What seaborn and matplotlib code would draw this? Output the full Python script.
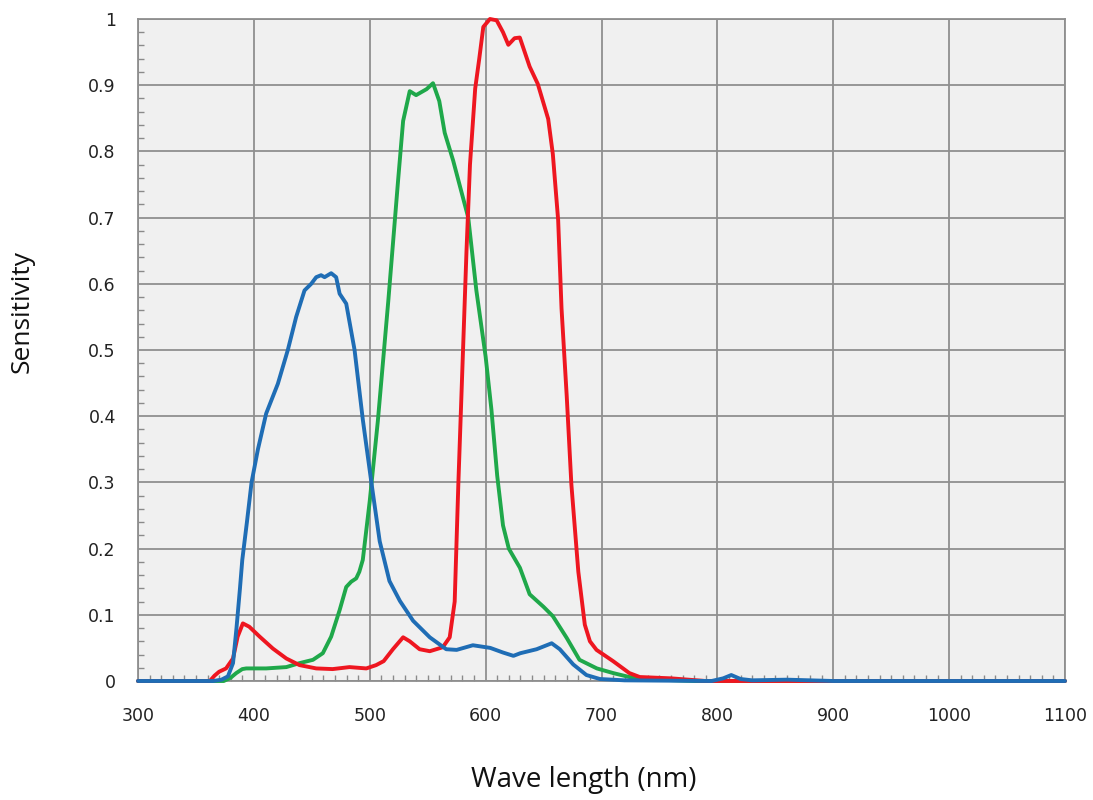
import numpy as np
import pandas as pd
import matplotlib
matplotlib.use("Agg")
import matplotlib.pyplot as plt
from matplotlib.ticker import MultipleLocator
import seaborn as sns

# ---- data ----
blue_x = [300, 365, 372, 377.6, 382, 385, 388, 390, 394, 398, 403.5, 410.6, 420.7, 429.3, 436.5,
          443.7, 449.5, 453.8, 458, 461, 466.7, 471, 474, 479.7, 486.9, 494, 501, 508.6, 517, 526,
          537.4, 551.8, 566, 575, 589, 604, 615, 624, 630, 644, 657, 664, 675.6, 687, 698.6, 720,
          795, 805, 812, 820, 830, 860, 880, 900, 1100]
blue_y = [0, 0, 0.002, 0.007, 0.027, 0.08, 0.14, 0.183, 0.24, 0.30, 0.35, 0.404, 0.449, 0.50, 0.55,
          0.59, 0.60, 0.61, 0.613, 0.61, 0.616, 0.61, 0.585, 0.57, 0.50, 0.395, 0.305, 0.211, 0.151, 0.121,
          0.091, 0.066, 0.048, 0.047, 0.054, 0.05, 0.043, 0.038, 0.042, 0.048, 0.057, 0.048, 0.025, 0.009, 0.003, 0.001,
          0, 0.004, 0.009, 0.003, 0.001, 0.002, 0.001, 0, 0]

green_x = [300, 374, 380, 384.8, 390, 393.4, 410.6, 428, 439.4, 451, 459.5, 466.7, 474, 479.7, 484,
           488.3, 491, 494, 500, 507, 516, 524.4, 528.8, 534.5, 540, 549, 554.6, 560, 564.7, 572,
           585, 592, 600, 605, 610, 615, 620, 629.6, 638, 650, 658, 670, 681, 696, 710, 724, 750, 780, 1100]
green_y = [0, 0, 0.005, 0.012, 0.018, 0.019, 0.019, 0.021, 0.027, 0.032, 0.042, 0.067, 0.107, 0.142, 0.15,
           0.155, 0.165, 0.183, 0.272, 0.393, 0.574, 0.755, 0.846, 0.891, 0.885, 0.894, 0.903, 0.876, 0.828, 0.786,
           0.70, 0.59, 0.49, 0.41, 0.31, 0.235, 0.20, 0.171, 0.131, 0.112, 0.098, 0.065, 0.032, 0.019, 0.012, 0.006, 0.002, 0, 0]

red_x = [300, 362, 366, 370, 376, 382, 386, 390.5, 396, 405, 416.4, 428, 439.4, 453.8, 468, 482.5, 497,
         505.5, 512, 520, 528.8, 534.5, 543, 551.8, 563, 569, 573.3, 576.5, 580.5, 583.5, 586.5, 591,
         594.5, 598, 603.7, 609.5, 615, 619.6, 625, 629.5, 638, 645, 654, 658, 662.6, 665.5, 670, 674,
         680, 685.6, 690, 695.7, 710, 724, 733, 760, 775, 790, 1100]
red_y = [0, 0, 0.008, 0.014, 0.019, 0.034, 0.067, 0.087, 0.082, 0.067, 0.049, 0.034, 0.024, 0.019, 0.018, 0.021, 0.019,
         0.024, 0.03, 0.048, 0.066, 0.06, 0.048, 0.045, 0.051, 0.066, 0.12, 0.30, 0.50, 0.65, 0.78, 0.895,
         0.94, 0.988, 1.0, 0.998, 0.98, 0.961, 0.971, 0.972, 0.928, 0.902, 0.849, 0.796, 0.696, 0.563, 0.43, 0.297,
         0.165, 0.085, 0.06, 0.047, 0.03, 0.012, 0.006, 0.004, 0.002, 0, 0]

x_ticks = [300, 400, 500, 600, 700, 800, 900, 1000, 1100]
y_ticks = [0, 0.1, 0.2, 0.3, 0.4, 0.5, 0.6, 0.7, 0.8, 0.9, 1]
y_tick_labels = ["0", "0.1", "0.2", "0.3", "0.4", "0.5", "0.6", "0.7", "0.8", "0.9", "1"]

df = pd.concat([
    pd.DataFrame({"wl": green_x, "s": green_y, "ch": "G"}),
    pd.DataFrame({"wl": red_x, "s": red_y, "ch": "R"}),
    pd.DataFrame({"wl": blue_x, "s": blue_y, "ch": "B"}),
], ignore_index=True)

sns.set_style("white")
plt.rcParams["font.family"] = ["DejaVu Sans"]

fig = plt.figure(figsize=(10.93, 8.0), dpi=100)
ax = fig.add_axes([138 / 1093, 1 - 681 / 800, (1065 - 138) / 1093, (681 - 19) / 800])
ax.set_facecolor("#f0f0f0")

palette = {"G": "#1fa84a", "R": "#ee1620", "B": "#1f6db5"}
sns.lineplot(data=df, x="wl", y="s", hue="ch", palette=palette, sort=False,
             estimator=None, linewidth=2.8, legend=False, ax=ax)
for ln in ax.get_lines():
    ln.set_solid_joinstyle("round")
    ln.set_solid_capstyle("round")
    ln.set_clip_on(False)
    ln.set_zorder(3)

ax.set_xlim(300, 1100)
ax.set_ylim(0, 1)
ax.set_xticks(x_ticks)
ax.set_xticklabels([str(v) for v in x_ticks])
ax.set_yticks(y_ticks)
ax.set_yticklabels(y_tick_labels)
ax.xaxis.set_minor_locator(MultipleLocator(10))
ax.yaxis.set_minor_locator(MultipleLocator(0.02))
ax.grid(True, which="major", color="#8f8f8f", linewidth=1.3, zorder=0.5)
ax.set_axisbelow(True)
ax.tick_params(axis="both", which="both", bottom=True, left=True, top=False, right=False)
ax.tick_params(axis="both", which="major", length=0, labelsize=12.5, colors="#222222")
ax.tick_params(axis="x", which="major", pad=19)
ax.tick_params(axis="y", which="major", pad=16)
ax.tick_params(axis="both", which="minor", direction="in", length=4, color="#8a8a8a", width=1)
for sp in ax.spines.values():
    sp.set_color("#8f8f8f")
    sp.set_linewidth(1.3)

ax.set_xlabel("Wave length (nm)", fontsize=20, family=["Open Sans", "DejaVu Sans"], color="#111111")
ax.set_ylabel("Sensitivity", fontsize=19, family=["Open Sans", "DejaVu Sans"], color="#111111")
ax.xaxis.set_label_coords((584 - 138) / 927, (681 - 780) / 662)
ax.xaxis.label.set_va("center")
ax.yaxis.set_label_coords((22 - 138) / 927, (681 - 312) / 662)
ax.yaxis.label.set_va("center")

fig.savefig("out.png", dpi=100)
